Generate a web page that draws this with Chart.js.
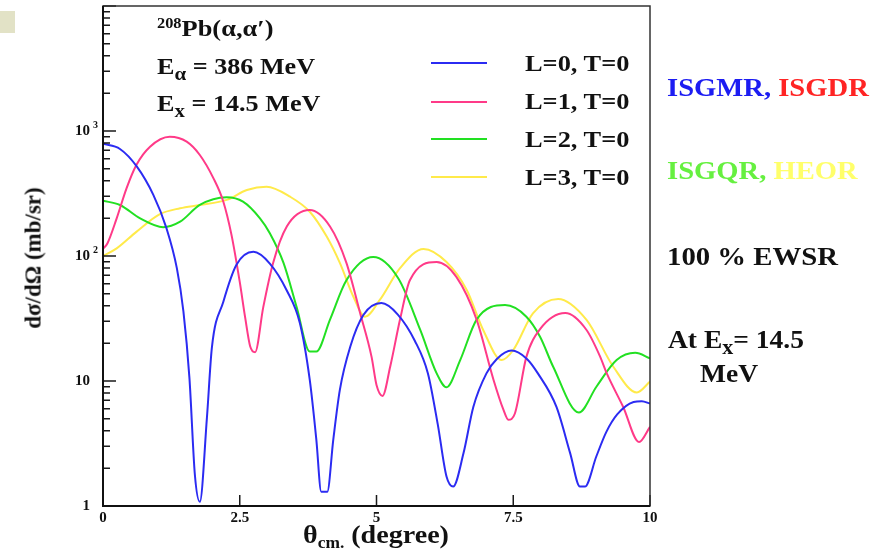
<!DOCTYPE html>
<html>
<head>
<meta charset="utf-8">
<title>208Pb(a,a') angular distributions</title>
<script src="https://cdn.jsdelivr.net/npm/chart.js@4.4.1/dist/chart.umd.min.js"></script>
<style>
  html, body { margin: 0; padding: 0; background: #fff; }
  #wrap {
    position: relative; width: 889px; height: 552px; overflow: hidden;
    font-family: "Liberation Serif", "Times New Roman", serif; font-weight: bold; color: #111;
  }
  #wrap canvas { position: absolute; left: 0; top: 0; }
  .t { position: absolute; white-space: nowrap; line-height: 1; transform-origin: 0 0; }
  .lo { position: relative; font-size: 0.8em; top: 0.32em; }
  .hi { position: relative; font-size: 0.62em; top: -0.55em; }
  #corner { position: absolute; left: 0; top: 11px; width: 15px; height: 22px; background: #e2e2c6; }
  .sw { position: absolute; height: 2px; }
  #ytitle { position: absolute; left: 33px; top: 258px; white-space: nowrap; line-height: 1;
            font-size: 23px; transform: translate(-50%, -50%) rotate(-90deg); }
</style>
</head>
<body>
<div id="wrap">
  <canvas id="xsChart" width="889" height="552"></canvas>
  <div id="corner"></div>

  <div class="t" data-x="157" data-b="36" data-s="24" data-k="1.1"><span class="hi">208</span>Pb(α,α′)</div>
  <div class="t" data-x="157" data-b="74" data-s="24" data-k="1.09">E<span class="lo">α</span> = 386 MeV</div>
  <div class="t" data-x="157" data-b="111" data-s="24" data-k="1.09">E<span class="lo">x</span> = 14.5 MeV</div>

  <div id="legend"></div>

  <div class="t" data-x="667" data-b="97" data-s="26" data-k="1.1"><span style="color:#1c1cf2">ISGMR,</span> <span style="color:#ff2424">ISGDR</span></div>
  <div class="t" data-x="667" data-b="180" data-s="26" data-k="1.1"><span style="color:#66f040">ISGQR,</span> <span style="color:#ffff6a">HEOR</span></div>
  <div class="t" data-x="667" data-b="265" data-s="25" data-k="1.15">100 % EWSR</div>
  <div class="t" data-x="668" data-b="348" data-s="25" data-k="1.1">At E<span class="lo">x</span>= 14.5</div>
  <div class="t" data-x="700" data-b="382" data-s="25" data-k="1.1">MeV</div>

  <div class="t" data-x="303" data-b="544" data-s="26" data-k="1.08">θ<span class="lo" style="font-size:0.62em">cm.</span> (degree)</div>
  <div id="ytitle">dσ/dΩ (mb/sr)</div>
</div>

<script>
// ---------- DATA ----------
const thetaL0 = [0, 0.31, 0.62, 0.92, 1.16, 1.35, 1.47, 1.58, 1.68, 1.77, 1.9, 1.99, 2.2, 2.44, 2.75,
  3.05, 3.36, 3.6, 3.78, 3.9, 3.99, 4.1, 4.21, 4.33, 4.52, 4.76, 5.09, 5.39, 5.7, 5.94, 6.12, 6.28,
  6.4, 6.59, 6.77, 7.01, 7.2, 7.47, 7.75, 7.95, 8.29, 8.54, 8.72, 8.81, 9.02, 9.2, 9.4, 9.7, 9.85, 10];
const sigmaL0 = [790, 718, 518, 308, 167, 80, 36, 10.6, 1.77, 1.08, 5.1, 18.4, 43, 85, 108,
  87, 53, 29, 10.2, 3.4, 1.3, 1.3, 3.4, 8.5, 18.8, 33.7, 42, 34, 21, 11.5, 4.5, 1.72,
  1.43, 2.64, 6.2, 11.5, 15, 17.5, 15, 11.5, 6.2, 2.65, 1.43, 1.43, 2.5, 3.9, 5.4, 6.8, 6.9, 6.6];

const thetaL1 = [0, 0.08, 0.25, 0.43, 0.61, 0.86, 1.22, 1.53, 1.77, 2.02, 2.2, 2.35, 2.5, 2.6, 2.69,
  2.78, 2.93, 3.11, 3.36, 3.78, 4.15, 4.45, 4.7, 4.91, 5.0, 5.11, 5.25, 5.43, 5.61, 6.1, 6.46, 6.83,
  7.14, 7.32, 7.41, 7.53, 7.74, 7.99, 8.45, 8.84, 9.09, 9.21, 9.51, 9.8, 10];
const sigmaL1 = [114, 126, 200, 348, 535, 749, 900, 822, 643, 418, 272, 147, 62, 32, 19,
  17, 39, 88, 172, 233, 172, 88, 35, 15.6, 9.3, 7.6, 13, 31, 64, 89.5, 68, 31,
  10.2, 5.9, 4.9, 5.5, 15.6, 26, 35, 25.6, 15.6, 11.5, 6.2, 3.25, 4.3];

const thetaL2 = [0, 0.31, 0.68, 1.1, 1.41, 1.77, 2.26, 2.56, 2.87, 3.05, 3.3, 3.54, 3.78, 3.9, 4.15,
  4.45, 4.94, 5.4, 5.8, 6.1, 6.28, 6.53, 6.83, 7.35, 7.74, 7.99, 8.23, 8.7, 9.02, 9.39, 9.73, 10];
const sigmaL2 = [277, 256, 200, 170, 188, 256, 295, 272, 200, 152, 88, 39, 17.2, 17.2, 31,
  64, 98, 66, 25.6, 11.5, 8.9, 14.7, 31, 40.5, 32.7, 22.6, 13, 5.6, 9, 14.7, 16.8, 15.2];

const thetaL3 = [0, 0.25, 0.61, 1.04, 1.41, 1.77, 2.26, 2.63, 2.99, 3.42, 3.78, 4.09, 4.33, 4.58,
  4.79, 5.06, 5.43, 5.86, 6.28, 6.65, 6.95, 7.29, 7.5, 7.86, 8.32, 8.84, 9.33, 9.76, 10];
const sigmaL3 = [100, 115, 156, 216, 241, 256, 281, 337, 358, 298, 226, 143, 88, 47,
  32.7, 44.5, 80, 114, 89.5, 53.5, 25.6, 14.7, 17.7, 34.8, 45.3, 30.8, 13, 8.1, 9.9];

const seriesLabels = ["L=0, T=0", "L=1, T=0", "L=2, T=0", "L=3, T=0"];
const seriesColors = ["#2b2bf2", "#ff3a88", "#22e022", "#ffea4a"];

const xTickLabels = ["0", "2.5", "5", "7.5", "10"];
const yDecades = [1, 10, 100, 1000];
const yTickBase = ["1", "10", "10", "10"];
const yTickExp = ["", "", "2", "3"];
const yMinor = [2, 3, 4, 5, 6, 7, 8, 9];

// ---------- HELPERS ----------
function toPoints(xs, ys) {
  return xs.map((x, i) => ({ x: x, y: ys[i] }));
}

const serifBold = (size) => ({ family: "'Liberation Serif', 'Times New Roman', serif", size: size, weight: "bold" });

// frame, inward ticks and y labels, all placed through the chart scales
const framePlugin = {
  id: "frame",
  afterDatasetsDraw(chart) {
    const { ctx, chartArea: a, scales } = chart;
    const xs = scales.x, ys = scales.y;
    ctx.save();
    ctx.strokeStyle = "#1a1a1a";

    // ticks on the left axis
    ctx.lineWidth = 1.5;
    ctx.beginPath();
    for (let d = 1; d <= 10000; d *= 10) {
      const py = ys.getPixelForValue(d);
      ctx.moveTo(a.left, py); ctx.lineTo(a.left + 13, py);
      if (d < 10000) {
        yMinor.forEach((m) => {
          const p = ys.getPixelForValue(m * d);
          ctx.moveTo(a.left, p); ctx.lineTo(a.left + 7, p);
        });
      }
    }
    // ticks on the bottom axis
    xs.ticks.forEach((t) => {
      const px = xs.getPixelForValue(t.value);
      ctx.moveTo(px, a.bottom); ctx.lineTo(px, a.bottom - 11);
    });
    ctx.stroke();

    // frame
    ctx.lineWidth = 1.5;
    ctx.strokeStyle = "#333";
    ctx.strokeRect(a.left, a.top, a.right - a.left, a.bottom - a.top);
    ctx.lineWidth = 2;
    ctx.strokeStyle = "#111";
    ctx.beginPath();
    ctx.moveTo(a.left, a.top); ctx.lineTo(a.left, a.bottom); ctx.lineTo(a.right, a.bottom);
    ctx.stroke();

    // y labels with exponents
    ctx.fillStyle = "#111";
    ctx.textBaseline = "middle";
    yDecades.forEach((v, i) => {
      const py = ys.getPixelForValue(v);
      ctx.font = "bold 15px 'Liberation Serif', serif";
      ctx.textAlign = "right";
      ctx.fillText(yTickBase[i], 90, py);
      if (yTickExp[i]) {
        ctx.font = "bold 10px 'Liberation Serif', serif";
        ctx.textAlign = "left";
        ctx.fillText(yTickExp[i], 93, py - 6);
      }
    });
    ctx.restore();
  }
};

// ---------- CHART ----------
const datasets = [
  toPoints(thetaL0, sigmaL0),
  toPoints(thetaL1, sigmaL1),
  toPoints(thetaL2, sigmaL2),
  toPoints(thetaL3, sigmaL3)
].map((pts, i) => ({
  label: seriesLabels[i],
  data: pts,
  borderColor: seriesColors[i],
  borderWidth: 2,
  pointRadius: 0,
  fill: false,
  cubicInterpolationMode: "monotone"
}));

const chart = new Chart(document.getElementById("xsChart"), {
  type: "line",
  data: { datasets: datasets },
  options: {
    responsive: false,
    animation: false,
    layout: { padding: { top: 6, right: 239, left: 0, bottom: 0 } },
    plugins: { legend: { display: false }, tooltip: { enabled: false } },
    scales: {
      x: {
        type: "linear", min: 0, max: 10,
        ticks: { stepSize: 2.5, padding: 3, color: "#111", font: serifBold(15),
                 maxRotation: 0, callback: (v, i) => xTickLabels[i] },
        grid: { display: false, drawTicks: false },
        border: { display: false },
        afterFit(s) { s.height = 46; }
      },
      y: {
        type: "logarithmic", min: 1, max: 10000,
        ticks: { display: false },
        grid: { display: false, drawTicks: false },
        border: { display: false },
        afterFit(s) { s.width = 103; }
      }
    }
  },
  plugins: [framePlugin]
});

// ---------- LEGEND (html, from the datasets) ----------
const legendRows = [63, 101.5, 139, 177];
const legend = document.getElementById("legend");
chart.data.datasets.forEach((ds, i) => {
  const sw = document.createElement("div");
  sw.className = "sw";
  sw.style.left = "431px";
  sw.style.width = "56px";
  sw.style.top = (legendRows[i] - 1) + "px";
  sw.style.background = ds.borderColor;
  legend.appendChild(sw);
  const lb = document.createElement("div");
  lb.className = "t";
  lb.textContent = ds.label;
  lb.dataset.x = 525; lb.dataset.b = legendRows[i] + 8; lb.dataset.s = 24; lb.dataset.k = 1.1;
  legend.appendChild(lb);
});

// ---------- TEXT PLACEMENT ----------
document.querySelectorAll(".t").forEach((el) => {
  const s = +el.dataset.s;
  el.style.fontSize = s + "px";
  el.style.left = el.dataset.x + "px";
  el.style.top = (+el.dataset.b - 0.84 * s) + "px";
  el.style.transform = "scaleX(" + el.dataset.k + ")";
});
</script>
</body>
</html>
